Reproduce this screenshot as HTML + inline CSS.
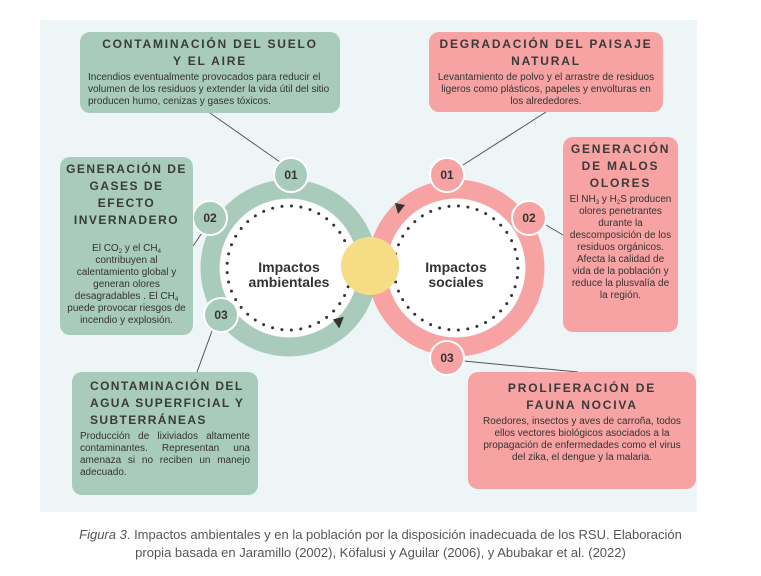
<!DOCTYPE html>
<html><head><meta charset="utf-8"><style>
body{margin:0;width:761px;height:576px;background:#fff;position:relative;overflow:hidden;font-family:"Liberation Sans",sans-serif;color:#333}
.panel{position:absolute;left:40px;top:20px;width:657px;height:492px;background:#edf5f6}
.box{position:absolute;border-radius:10px;box-sizing:border-box;padding:4px 6px;text-align:center}
.g{background:#a8cbbb}.p{background:#f7a3a3}
.t{font-weight:bold;letter-spacing:1.8px;font-size:12px;line-height:17px;color:#3a3a3a;white-space:nowrap}
.d{font-size:10px;line-height:12px;color:#333;margin-top:2px}
sub{font-size:6px;line-height:0;vertical-align:-2px}
svg{position:absolute;left:0;top:0}
.cap{position:absolute;left:0;width:761px;top:526px;text-align:center;font-size:13px;line-height:18px;color:#555}
</style></head><body>
<div class="panel"></div>
<svg width="761" height="576">
<g stroke="#555" stroke-width="1">
<line x1="210" y1="113" x2="280" y2="162"/>
<line x1="193" y1="246" x2="202" y2="233"/>
<line x1="212" y1="331" x2="197" y2="372"/>
<line x1="546" y1="112" x2="463" y2="165"/>
<line x1="546" y1="225" x2="563" y2="235"/>
<line x1="464" y1="361" x2="578" y2="372"/>
</g>
<circle cx="456" cy="268" r="79" fill="none" stroke="#f7a3a3" stroke-width="19"/>
<circle cx="289" cy="268" r="79" fill="none" stroke="#a8cbbb" stroke-width="19"/>
<circle cx="289" cy="268" r="69" fill="#fff"/>
<circle cx="456" cy="268" r="69" fill="#fff"/>
<circle cx="289" cy="268" r="62" fill="none" stroke="#333" stroke-width="3" stroke-linecap="round" stroke-dasharray="0 9.5"/>
<circle cx="456" cy="268" r="62" fill="none" stroke="#333" stroke-width="3" stroke-linecap="round" stroke-dasharray="0 9.5"/>
<polygon points="335,315 345,320 334,326" fill="#333" transform="rotate(-40 340 320)"/>
<polygon points="395,203 405,205 398,214" fill="#333"/>
<circle cx="370" cy="266" r="29" fill="#f7dc86"/>
<g font-family="Liberation Sans" font-weight="bold" font-size="12" fill="#333" text-anchor="middle">
<circle cx="291" cy="175" r="17" fill="#a8cbbb" stroke="#fff" stroke-width="2"/><text x="291" y="179">01</text>
<circle cx="210" cy="218" r="17" fill="#a8cbbb" stroke="#fff" stroke-width="2"/><text x="210" y="222">02</text>
<circle cx="221" cy="315" r="17" fill="#a8cbbb" stroke="#fff" stroke-width="2"/><text x="221" y="319">03</text>
<circle cx="447" cy="175" r="17" fill="#f7a3a3" stroke="#fff" stroke-width="2"/><text x="447" y="179">01</text>
<circle cx="529" cy="218" r="17" fill="#f7a3a3" stroke="#fff" stroke-width="2"/><text x="529" y="222">02</text>
<circle cx="447" cy="358" r="17" fill="#f7a3a3" stroke="#fff" stroke-width="2"/><text x="447" y="362">03</text>
<text x="289" y="272" font-size="14">Impactos</text><text x="289" y="287" font-size="14">ambientales</text>
<text x="456" y="272" font-size="14">Impactos</text><text x="456" y="287" font-size="14">sociales</text>
</g>
</svg>
<div class="box g" style="left:80px;top:32px;width:260px;height:81px"><div class="t">CONTAMINACIÓN DEL SUELO<br>Y EL AIRE</div><div class="d" style="text-align:left;padding:0 2px">Incendios eventualmente provocados para reducir el volumen de los residuos y extender la vida útil del sitio producen humo, cenizas y gases tóxicos.</div></div>
<div class="box g" style="left:60px;top:157px;width:133px;height:178px"><div class="t" style="letter-spacing:1.5px">GENERACIÓN DE<br>GASES DE<br>EFECTO<br>INVERNADERO</div><div class="d" style="margin-top:14px">El CO<sub>2</sub> y el CH<sub>4</sub> contribuyen al calentamiento global y generan olores desagradables . El CH<sub>4</sub> puede provocar riesgos de incendio y explosión.</div></div>
<div class="box g" style="left:72px;top:372px;width:186px;height:123px;text-align:left;padding:6px 8px"><div class="t" style="padding-left:10px;letter-spacing:1.4px">CONTAMINACIÓN DEL<br>AGUA SUPERFICIAL Y<br>SUBTERRÁNEAS</div><div class="d" style="text-align:justify">Producción de lixiviados altamente contaminantes. Representan una amenaza si no reciben un manejo adecuado.</div></div>
<div class="box p" style="left:429px;top:32px;width:234px;height:80px"><div class="t">DEGRADACIÓN DEL PAISAJE<br>NATURAL</div><div class="d">Levantamiento de polvo y el arrastre de residuos ligeros como plásticos, papeles y envolturas en los alrededores.</div></div>
<div class="box p" style="left:563px;top:137px;width:115px;height:195px;padding:4px 5px"><div class="t">GENERACIÓN<br>DE MALOS<br>OLORES</div><div class="d">El NH<sub>3</sub> y H<sub>2</sub>S producen olores penetrantes durante la descomposición de los residuos orgánicos. Afecta la calidad de vida de la población y reduce la plusvalía de la región.</div></div>
<div class="box p" style="left:468px;top:372px;width:228px;height:117px;padding:8px 14px"><div class="t">PROLIFERACIÓN DE<br>FAUNA NOCIVA</div><div class="d">Roedores, insectos y aves de carroña, todos ellos vectores biológicos asociados a la propagación de enfermedades como el virus del zika, el dengue y la malaria.</div></div>
<div class="cap"><i>Figura 3</i>. Impactos ambientales y en la población por la disposición inadecuada de los RSU. Elaboración<br>propia basada en Jaramillo (2002), Köfalusi y Aguilar (2006), y Abubakar et al. (2022)</div>
</body></html>
